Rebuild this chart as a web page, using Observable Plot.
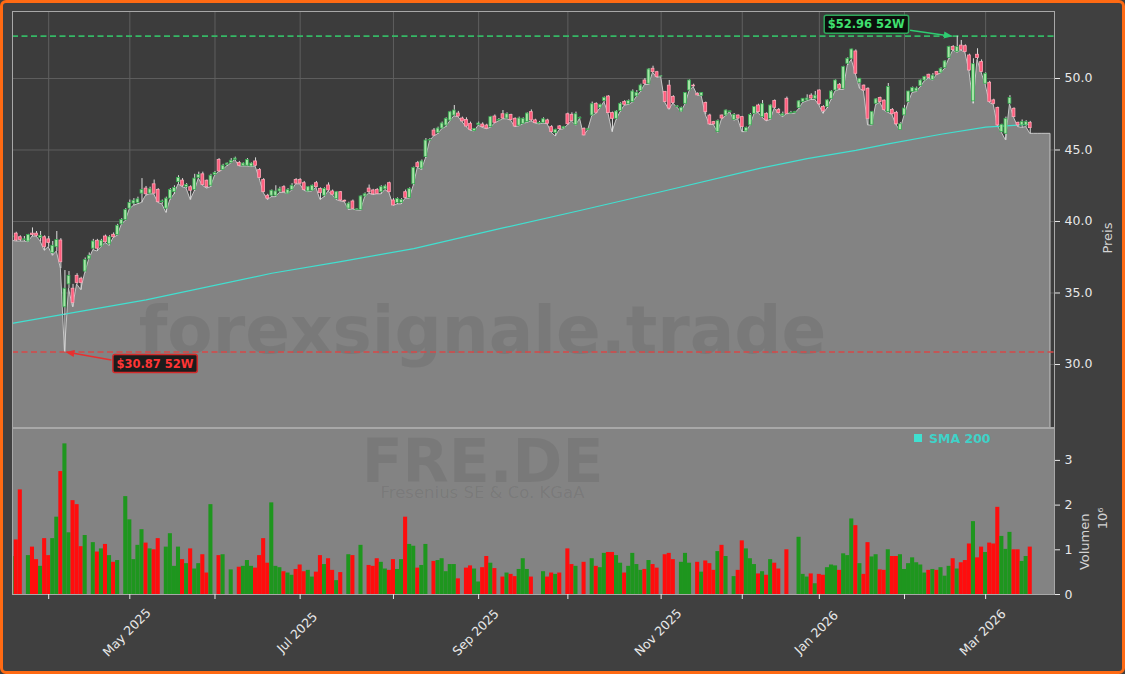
<!DOCTYPE html>
<html><head><meta charset="utf-8">
<script src="https://cdn.jsdelivr.net/npm/d3@7"></script>
<script src="https://cdn.jsdelivr.net/npm/@observablehq/plot@0.6"></script>
<style>
html,body{margin:0;padding:0;background:#404040;}
#wrap{position:relative;width:1125px;height:674px;background:#404040;overflow:hidden;font-family:"DejaVu Sans",sans-serif;}
#wrap svg{position:absolute;left:0;max-width:none;}
#border{position:absolute;left:0;top:0;width:1125px;height:674px;box-sizing:border-box;border:3px solid #ff6a13;border-radius:6px;pointer-events:none;}
</style></head><body>
<div id="wrap"><div id="border"></div></div>
<script>
// ---- data (index 0 = first, partly hidden trading day; one entry per trading day) ----
const open = [38.9,
39.15,38.9,38.7,38.6,39.15,39.15,38.85,38.9,38.75,37.8,
38.2,38.67,34.0,35.6,35.3,36.2,36.0,36.5,37.35,38.1,
38.65,38.25,38.95,38.4,39.07,39.05,39.8,40.1,40.9,41.25,
41.3,41.95,42.3,41.95,42.6,42.2,41.35,40.9,41.6,42.05,
42.75,42.86,42.4,42.4,42.2,43.05,43.3,42.85,42.5,43.25,
44.3,43.6,43.95,44.1,44.3,44.1,43.9,43.9,43.85,44.2,
43.6,42.9,41.8,41.8,41.8,42.1,42.4,41.95,42.2,42.9,
42.9,42.68,42.1,42.15,42.68,42.28,41.8,42.52,42.1,41.58,
42.05,41.45,40.9,41.4,40.8,40.81,41.75,42.3,42.17,42.2,
42.05,42.25,42.68,41.47,41.3,41.3,42.05,41.65,42.6,44.08,
43.7,44.5,45.66,46.36,46.2,46.5,46.71,47.06,47.41,47.55,
47.2,47.1,46.83,46.32,46.75,46.78,46.71,46.6,47.34,47.06,
47.5,47.2,47.45,47.18,46.7,46.83,46.95,47.65,47.07,46.85,
46.9,47.07,46.6,46.18,46.65,46.5,47.5,47.46,46.75,47.2,
46.48,46.4,47.41,48.23,47.95,48.42,48.74,47.58,47.18,47.72,
48.35,48.2,48.35,48.75,49.12,49.86,49.63,50.68,50.44,50.14,
49.05,49.5,48.7,48.0,47.69,48.23,49.16,49.5,48.93,48.79,
48.28,47.41,46.95,46.25,47.41,47.41,47.65,47.1,47.41,47.3,
46.3,46.72,47.53,48.11,47.3,47.53,47.18,48.42,47.81,47.4,
48.58,47.55,47.6,47.93,48.35,48.47,48.8,48.58,49.16,48.0,
48.0,48.58,49.16,49.56,49.28,51.03,51.38,51.89,49.7,49.5,
49.28,46.76,48.23,48.63,48.45,47.65,47.8,47.6,46.4,47.42,
48.35,49.05,49.1,49.47,49.86,50.26,49.9,50.45,50.4,50.73,
51.43,52.2,51.85,52.3,52.26,51.61,48.4,51.66,51.15,49.63,
49.7,48.47,47.93,46.25,46.13,48.23,47.88,46.9,46.72,46.72,46.9];

const high = [39.1,
39.25,39.0,38.95,39.1,39.55,39.3,39.3,39.0,38.95,38.6,
39.3,38.8,36.57,36.5,35.6,36.35,36.1,37.45,37.8,38.75,
38.75,38.75,39.05,39.0,39.2,39.8,40.2,40.9,41.5,41.6,
41.7,43.0,42.45,42.4,42.9,42.3,41.5,41.7,42.3,42.5,
43.2,43.0,42.65,42.5,43.3,43.45,43.45,42.9,43.3,43.5,
44.4,44.0,44.1,44.4,44.5,44.2,44.1,44.4,44.1,44.45,
43.7,43.0,41.9,42.2,42.5,42.4,42.5,42.3,42.65,43.0,
43.0,42.8,42.45,42.55,42.8,42.35,42.35,42.7,42.2,42.1,
42.1,41.5,41.35,41.5,40.9,41.8,42.0,42.55,42.25,42.3,
42.5,42.55,42.75,41.6,41.65,41.6,42.2,42.35,43.8,44.2,
44.3,45.8,45.8,46.5,46.6,46.95,47.25,47.7,48.11,47.7,
47.3,47.25,46.95,46.5,46.95,46.9,46.8,47.35,47.45,47.2,
47.76,47.6,47.5,47.25,47.3,47.25,47.6,47.8,47.15,47.0,
47.25,47.15,46.7,46.45,46.7,46.65,47.58,47.6,47.65,47.3,
46.55,46.5,48.35,48.3,48.2,48.7,48.8,47.65,47.75,48.3,
48.45,48.5,49.2,49.16,49.6,50.0,50.7,50.86,50.5,50.2,
49.1,49.86,48.8,48.1,48.0,49.0,49.9,49.6,49.0,49.0,
48.35,47.5,47.0,47.1,47.45,47.8,47.7,47.55,47.45,47.35,
46.6,47.55,48.0,48.2,48.46,47.6,48.15,48.5,47.9,47.65,
48.7,47.7,47.7,48.45,48.6,48.86,48.93,49.09,49.2,48.1,
48.5,49.15,49.9,49.65,50.85,51.45,52.05,52.0,50.0,49.55,
49.35,47.7,48.6,48.7,48.5,49.65,47.9,47.7,46.9,48.12,
49.1,49.4,49.4,49.9,50.15,50.3,50.35,50.5,50.75,51.25,
52.25,52.3,52.96,52.66,52.35,51.7,51.38,52.08,51.3,50.4,
49.8,48.55,48.0,46.8,47.3,48.8,47.95,46.95,47.1,47.05,47.0];

const low = [38.65,
38.6,38.6,38.6,38.55,38.95,38.95,38.6,37.95,38.2,37.6,
37.9,36.7,30.87,35.3,34.0,35.6,35.2,36.4,37.35,38.0,
37.9,38.2,38.5,38.3,38.85,39.0,39.75,40.05,40.85,41.1,
41.2,41.3,41.8,41.9,41.9,41.3,41.2,40.6,41.5,41.9,
42.6,42.4,42.3,41.5,42.1,43.0,42.5,42.3,42.4,43.2,
43.45,43.6,43.85,44.05,44.3,43.85,43.85,43.85,43.8,43.85,
43.0,42.0,41.5,41.7,41.7,42.0,42.0,41.93,42.15,42.6,
42.6,42.15,42.05,42.1,42.35,41.5,41.7,42.1,41.85,41.5,
41.4,41.35,40.8,40.85,40.77,40.75,41.7,41.95,41.85,41.9,
41.9,42.2,42.0,41.1,41.2,41.2,41.6,41.6,42.5,43.75,
43.6,44.4,45.6,45.95,46.1,46.45,46.6,47.0,47.35,47.3,
46.95,46.6,46.35,46.3,46.7,46.55,46.45,46.55,46.85,47.0,
47.15,47.15,47.05,46.6,46.65,46.8,46.9,47.0,46.85,46.79,
46.85,46.8,46.2,45.95,46.4,46.45,46.72,47.0,46.7,47.18,
46.0,46.37,47.35,47.53,47.9,48.35,47.55,46.25,47.1,47.65,
48.1,48.15,48.3,48.7,49.05,49.55,49.55,50.4,50.05,50.1,
48.3,47.81,48.25,47.95,47.65,48.2,49.1,49.4,48.8,48.75,
47.45,46.75,46.75,46.2,47.15,47.35,47.65,47.05,47.15,46.25,
46.25,46.7,47.5,47.6,47.25,47.0,47.1,47.9,47.55,47.3,
47.5,47.53,47.53,47.85,48.3,48.4,48.5,48.5,48.12,47.53,
47.9,48.5,49.1,49.2,49.2,50.9,51.3,50.3,49.28,49.1,
46.72,46.7,48.15,48.3,47.75,47.6,47.46,46.72,46.37,47.4,
48.3,49.0,49.05,49.4,49.8,50.0,49.85,50.25,50.35,50.68,
51.35,51.95,51.8,51.95,51.8,50.5,48.23,51.3,50.4,49.55,
48.3,48.15,46.65,46.2,45.67,48.2,47.25,46.6,46.55,46.6,46.13];

const close = [38.95,
38.67,38.7,38.75,39.05,39.05,39.0,39.0,38.2,38.5,38.3,
38.7,37.15,35.3,36.2,34.3,35.7,35.7,37.3,37.6,38.6,
38.1,38.65,38.55,38.9,38.9,39.7,40.1,40.8,41.3,41.45,
41.55,42.2,41.9,42.25,41.95,41.35,41.4,41.6,42.2,42.35,
43.05,42.5,42.55,42.15,43.0,43.25,42.55,42.4,43.2,43.4,
43.5,43.9,44.05,44.25,44.4,43.9,44.05,44.3,44.05,43.9,
43.05,42.05,41.6,42.15,42.1,42.25,42.05,42.2,42.5,42.65,
42.65,42.2,42.4,42.5,42.4,41.98,42.28,42.17,41.87,42.05,
41.47,41.4,41.25,40.89,40.85,41.75,41.9,42.05,41.9,41.93,
42.4,42.45,42.05,41.12,41.58,41.5,41.65,42.28,43.75,43.8,
44.2,45.66,45.7,46.0,46.5,46.85,47.18,47.64,47.76,47.34,
47.0,46.64,46.41,46.48,46.85,46.6,46.5,47.3,46.9,47.1,
47.2,47.5,47.1,46.64,47.2,47.18,47.55,47.07,46.88,46.9,
47.15,46.84,46.25,46.41,46.46,46.6,46.8,47.02,47.5,47.25,
46.02,46.45,48.2,47.6,48.16,48.65,47.58,47.18,47.69,48.23,
48.16,48.42,49.09,49.0,49.51,49.63,50.63,50.44,50.1,50.15,
48.35,47.9,48.28,48.05,47.95,48.98,49.86,49.45,48.82,48.98,
47.65,46.79,46.79,47.02,47.2,47.76,47.7,47.45,47.2,46.6,
46.55,47.45,48.0,47.65,48.2,47.07,48.11,47.95,47.58,47.5,
47.53,47.6,47.65,48.4,48.58,48.6,48.6,48.8,48.2,47.7,
48.47,49.09,49.86,49.28,50.8,51.38,52.03,50.33,49.98,49.16,
47.18,47.65,48.54,48.35,47.8,49.4,47.5,46.8,46.8,47.9,
49.09,49.33,49.3,49.86,50.1,50.03,50.2,50.26,50.68,51.19,
52.2,51.98,52.2,52.0,51.85,50.56,51.0,51.43,50.45,50.33,
48.35,48.23,46.72,46.76,47.18,48.63,47.3,46.72,46.95,46.95,46.53];

// volume in millions (0 = no bar drawn)
const volumeMio = [0.85,
1.22,2.34,0,0.87,1.06,0.78,0.63,1.25,0.87,1.25,
1.73,2.75,3.37,1.38,2.10,2.01,1.07,1.32,0,1.16,
0.95,1.02,1.12,0.87,0.72,0.76,0,2.19,1.67,0.78,
1.10,1.45,1.15,1.02,1.00,1.25,0,1.06,1.36,0.63,
1.06,0.78,0.69,1.02,0.57,0.69,0.89,0.48,2.01,0,
0.87,0.89,0,0.55,0,0.61,0.63,0.76,0.63,0.59,
0.87,1.25,0.70,2.05,0.63,0.60,0.51,0.48,0.43,0.56,
0.66,0.51,0.54,0.39,0.50,0.87,0.67,0.80,0.54,0.31,
0.49,0,0.89,0.87,0,1.10,0,0.65,0.63,0.80,
0.72,0.57,0.54,0.78,0.56,0.78,1.73,1.12,1.08,0.59,
0.65,1.12,0,0.74,0.76,0.80,0.51,0.67,0.67,0.35,
0,0.59,0.64,0.57,0.28,0.60,0.85,0.70,0.58,0,
0.39,0.48,0.45,0.40,0.56,0.80,0.56,0.39,0,0,
0.51,0.39,0.48,0.45,0.48,0,1.02,0.67,0.63,0,
0.72,0,0.80,0.63,0.60,0.92,0.94,0.94,0.87,0.70,
0.48,0.63,0.92,0.67,0.54,0.56,0.76,0.67,0.59,0,
0.89,0.92,0.78,0,0.72,0.92,0.70,0,0.72,0.50,
0.75,0.69,0.54,0.96,1.10,0.85,0,0.40,0.54,1.20,
1.02,0.80,0.67,0.46,0.51,0.43,0.78,0.70,0.57,0,
1.00,0,0,1.28,0.45,0.39,0.46,0.24,0.45,0.43,
0.60,0.66,0.64,0.54,0.91,0.87,1.69,1.54,0.69,0.45,
1.16,0.84,0.89,0.55,0.54,1.00,0.85,0.85,0.89,0.56,
0.69,0.82,0.71,0.66,0.48,0.54,0.56,0.54,0.60,0.41,
0.63,0.80,0.57,0.71,0.76,1.13,1.63,0.82,1.06,0.94,
1.15,1.13,1.95,1.30,1.01,1.39,1.00,1.00,0.74,0.85,1.06];

// SMA 200 read at sample days
const smaIdx = [0, 1, 33, 64, 81, 99, 121, 140, 161, 184, 196, 208, 216, 229, 240, 251];
const smaVal = [32.87, 32.93, 34.52, 36.38, 37.2, 38.1, 39.55, 40.77, 42.15, 43.7, 44.4, 44.97, 45.43, 46.1, 46.6, 46.8];

// first trading day of each month (index) and labels
const monthTickIdx = [9, 29, 50, 71, 94, 115, 137, 160, 180, 199, 220, 240];
const monthTickLabels = ["", "May 2025", "", "Jul 2025", "", "Sep 2025", "", "Nov 2025", "", "Jan 2026", "", "Mar 2026"];
const priceTicks = [30, 35, 40, 45, 50];
const volTicks = [0, 1, 2, 3];

const high52 = 52.96, high52Idx = 233;
const low52 = 30.87, low52Idx = 13;
const forwardDays = 5;   // area continues flat after last candle
const watermark = "forexsignale.trade";
const ticker = "FRE.DE";
const companyName = "Fresenius SE & Co. KGaA";
const smaLabel = "SMA 200";

// ---- build tables ----
const candles = open.map((o, k) => ({k, open: o, high: high[k], low: low[k], close: close[k], vol: volumeMio[k], up: close[k] >= o}));
const last = candles[candles.length - 1];
const areaData = candles.map(d => ({k: d.k, low: d.low}));
for (let j = 1; j <= forwardDays; j++) areaData.push({k: last.k + j, low: last.low});
const smaData = smaIdx.map((k, j) => ({k, v: smaVal[j]}));
const labeled = monthTickIdx.map((k, j) => ({k, label: monthTickLabels[j]})).filter(d => d.label);

const UP_F = "#a6e6a6", UP_S = "#35a850", DN_F = "#ff5c7c", DN_S = "#ffa3b5";
const VOL_UP = "#1e961e", VOL_DN = "#ff0d0d";
const SMA_C = "#40e0d0";

const xOpt = {domain: [0.075, 256.98], axis: null};
const style = {background: "transparent", color: "#e8e8e8", fontFamily: "'DejaVu Sans', sans-serif", fontSize: "12.5px", overflow: "visible"};

const priceChart = Plot.plot({
  width: 1125, height: 428, marginLeft: 12, marginRight: 71, marginTop: 11, marginBottom: 1,
  style, x: xOpt, y: {domain: [25.594, 54.685], axis: null}, color: {type: "identity"},
  marks: [
    Plot.frame({fill: "#3c3c3c"}),
    Plot.ruleX(monthTickIdx, {x: d => d, stroke: "#5f5f5f"}),
    Plot.ruleY(priceTicks, {y: d => d, stroke: "#5f5f5f"}),
    Plot.areaY(areaData, {x: "k", y: "low", fill: "#838383", stroke: "#c6c6c6", strokeWidth: 1, clip: true}),
    Plot.text([watermark], {text: d => d, frameAnchor: "top-left", dx: 470, dy: 341, lineAnchor: "bottom", textAnchor: "middle", fontSize: 66, fontWeight: "bold", fill: "#000", fillOpacity: 0.075}),
    Plot.line(smaData, {x: "k", y: "v", stroke: SMA_C, strokeWidth: 1.2, clip: true}),
    Plot.ruleY([high52], {y: d => d, stroke: "#35b865", strokeWidth: 1.6, strokeDasharray: "6,3.5"}),
    Plot.ruleY([low52], {y: d => d, stroke: "#d84848", strokeWidth: 1.6, strokeDasharray: "6,3.5"}),
    Plot.ruleX(candles, {x: "k", y1: "low", y2: "high", stroke: "#dcdcdc", strokeWidth: 1, clip: true}),
    Plot.rect(candles, {x1: d => d.k - 0.35, x2: d => d.k + 0.35, y1: "open", y2: "close",
      fill: d => d.up ? UP_F : DN_F, stroke: d => d.up ? UP_S : DN_S, strokeWidth: 0.8, clip: true}),
    Plot.frame({stroke: "#a8a8a8"}),
    Plot.axisY({ticks: priceTicks, anchor: "right", tickSize: 5, tickPadding: 5, tickFormat: d3.format(".1f"), label: null, fontSize: 12.5}),
    Plot.text(["Preis"], {text: d => d, frameAnchor: "right", dx: 53, dy: 3, rotate: -90, fill: "#d4d4d4", fontSize: 13})
  ]
});

const volChart = Plot.plot({
  width: 1125, height: 246, marginLeft: 12, marginRight: 71, marginTop: 0, marginBottom: 80,
  style, x: xOpt, y: {domain: [0, 3.714], axis: null}, color: {type: "identity"},
  marks: [
    Plot.frame({fill: "#838383"}),
    Plot.text([ticker], {text: d => d, frameAnchor: "top-left", dx: 470, dy: 53, lineAnchor: "bottom", textAnchor: "middle", fontSize: 60, fontWeight: "bold", fill: "#000", fillOpacity: 0.075}),
    Plot.text([companyName], {text: d => d, frameAnchor: "top-left", dx: 470, dy: 69, lineAnchor: "bottom", textAnchor: "middle", fontSize: 16.5, fill: "#000", fillOpacity: 0.075}),
    Plot.rectY(candles.filter(d => d.vol > 0), {x1: d => d.k - 0.5, x2: d => d.k + 0.5, y: "vol", fill: d => d.up ? VOL_UP : VOL_DN, clip: true}),
    Plot.frame({stroke: "#a8a8a8"}),
    Plot.axisY({ticks: volTicks, anchor: "right", tickSize: 5, tickPadding: 5, tickFormat: d3.format("d"), label: null, fontSize: 12.5}),
    Plot.axisX({ticks: monthTickIdx, anchor: "bottom", tickSize: 5, tickFormat: () => "", label: null}),
    Plot.text(labeled, {x: "k", text: "label", frameAnchor: "bottom", dy: 41, rotate: -45, textAnchor: "middle", fontSize: 12.5, fill: "#e8e8e8"}),
    Plot.text(["Volumen"], {text: d => d, frameAnchor: "right", dx: 30, dy: 2, rotate: -90, fill: "#d4d4d4", fontSize: 13}),
    Plot.text(["10⁶"], {text: d => d, frameAnchor: "right", dx: 48, dy: -4, rotate: -90, fill: "#d4d4d4", fontSize: 13})
  ]
});

const wrap = document.getElementById("wrap");
const border = document.getElementById("border");
priceChart.style.top = "0px";
volChart.style.top = "428px";
wrap.insertBefore(priceChart, border);
wrap.insertBefore(volChart, border);

// ---- annotations (label box + arrow pointing to the 52W extreme) ----
function annotate(chart, k, v, label, o) {
  const px = chart.scale("x").apply(k), py = chart.scale("y").apply(v);
  const svg = d3.select(chart);
  let defs = svg.select("defs");
  if (defs.empty()) defs = svg.append("defs");
  const id = "arr" + Math.round(k);
  defs.append("marker").attr("id", id).attr("viewBox", "0 0 10 10").attr("refX", 9).attr("refY", 5)
    .attr("markerWidth", 5.5).attr("markerHeight", 5.5).attr("orient", "auto")
    .append("path").attr("d", "M0,1L10,5L0,9z").attr("fill", o.arrow);
  const g = svg.append("g");
  const cx = px + o.dx, cy = py + o.dy;
  const t = g.append("text").attr("x", cx).attr("y", cy).attr("dy", "0.36em").attr("text-anchor", "middle")
    .attr("font-family", "DejaVu Sans").attr("font-weight", "bold").attr("font-size", 11.5).attr("fill", o.text).text(label);
  const b = t.node().getBBox();
  g.insert("rect", "text").attr("x", b.x - 3.5).attr("y", cy - 9).attr("width", b.width + 7).attr("height", 18).attr("rx", 2)
    .attr("fill", o.bg).attr("stroke", o.border).attr("stroke-width", 1.5);
  const sx = o.dx < 0 ? b.x + b.width + 5 : b.x - 5;
  const sy = cy + o.sy;
  g.append("line").attr("x1", sx).attr("y1", sy).attr("x2", px + o.ex).attr("y2", py + o.ey)
    .attr("stroke", o.arrow).attr("stroke-width", 1.6).attr("marker-end", `url(#${id})`);
}
annotate(priceChart, high52Idx, high52, "$" + high52.toFixed(2) + " 52W",
  {dx: -90.5, dy: -11.5, sy: 6, ex: -5, ey: 0.5, text: "#3fe06f", bg: "#0b0f0c", border: "#2ea85a", arrow: "#2ecc71"});
annotate(priceChart, low52Idx, low52, "$" + low52.toFixed(2) + " 52W",
  {dx: 90.5, dy: 12, sy: -3.5, ex: 2, ey: 0.5, text: "#ff3535", bg: "#1c1c1c", border: "#d42a2a", arrow: "#e83030"});

// ---- legend ----
const vs = d3.select(volChart);
const lg = vs.append("g").attr("text-anchor", "start");
lg.append("rect").attr("x", 914).attr("y", 6).attr("width", 8).attr("height", 8).attr("fill", SMA_C);
lg.append("text").attr("x", 929).attr("y", 14.5).attr("text-anchor", "start").attr("font-family", "DejaVu Sans").attr("font-weight", "bold")
  .attr("font-size", 12.5).attr("fill", "#3fd2c8").text(smaLabel);
</script>
</body></html>
